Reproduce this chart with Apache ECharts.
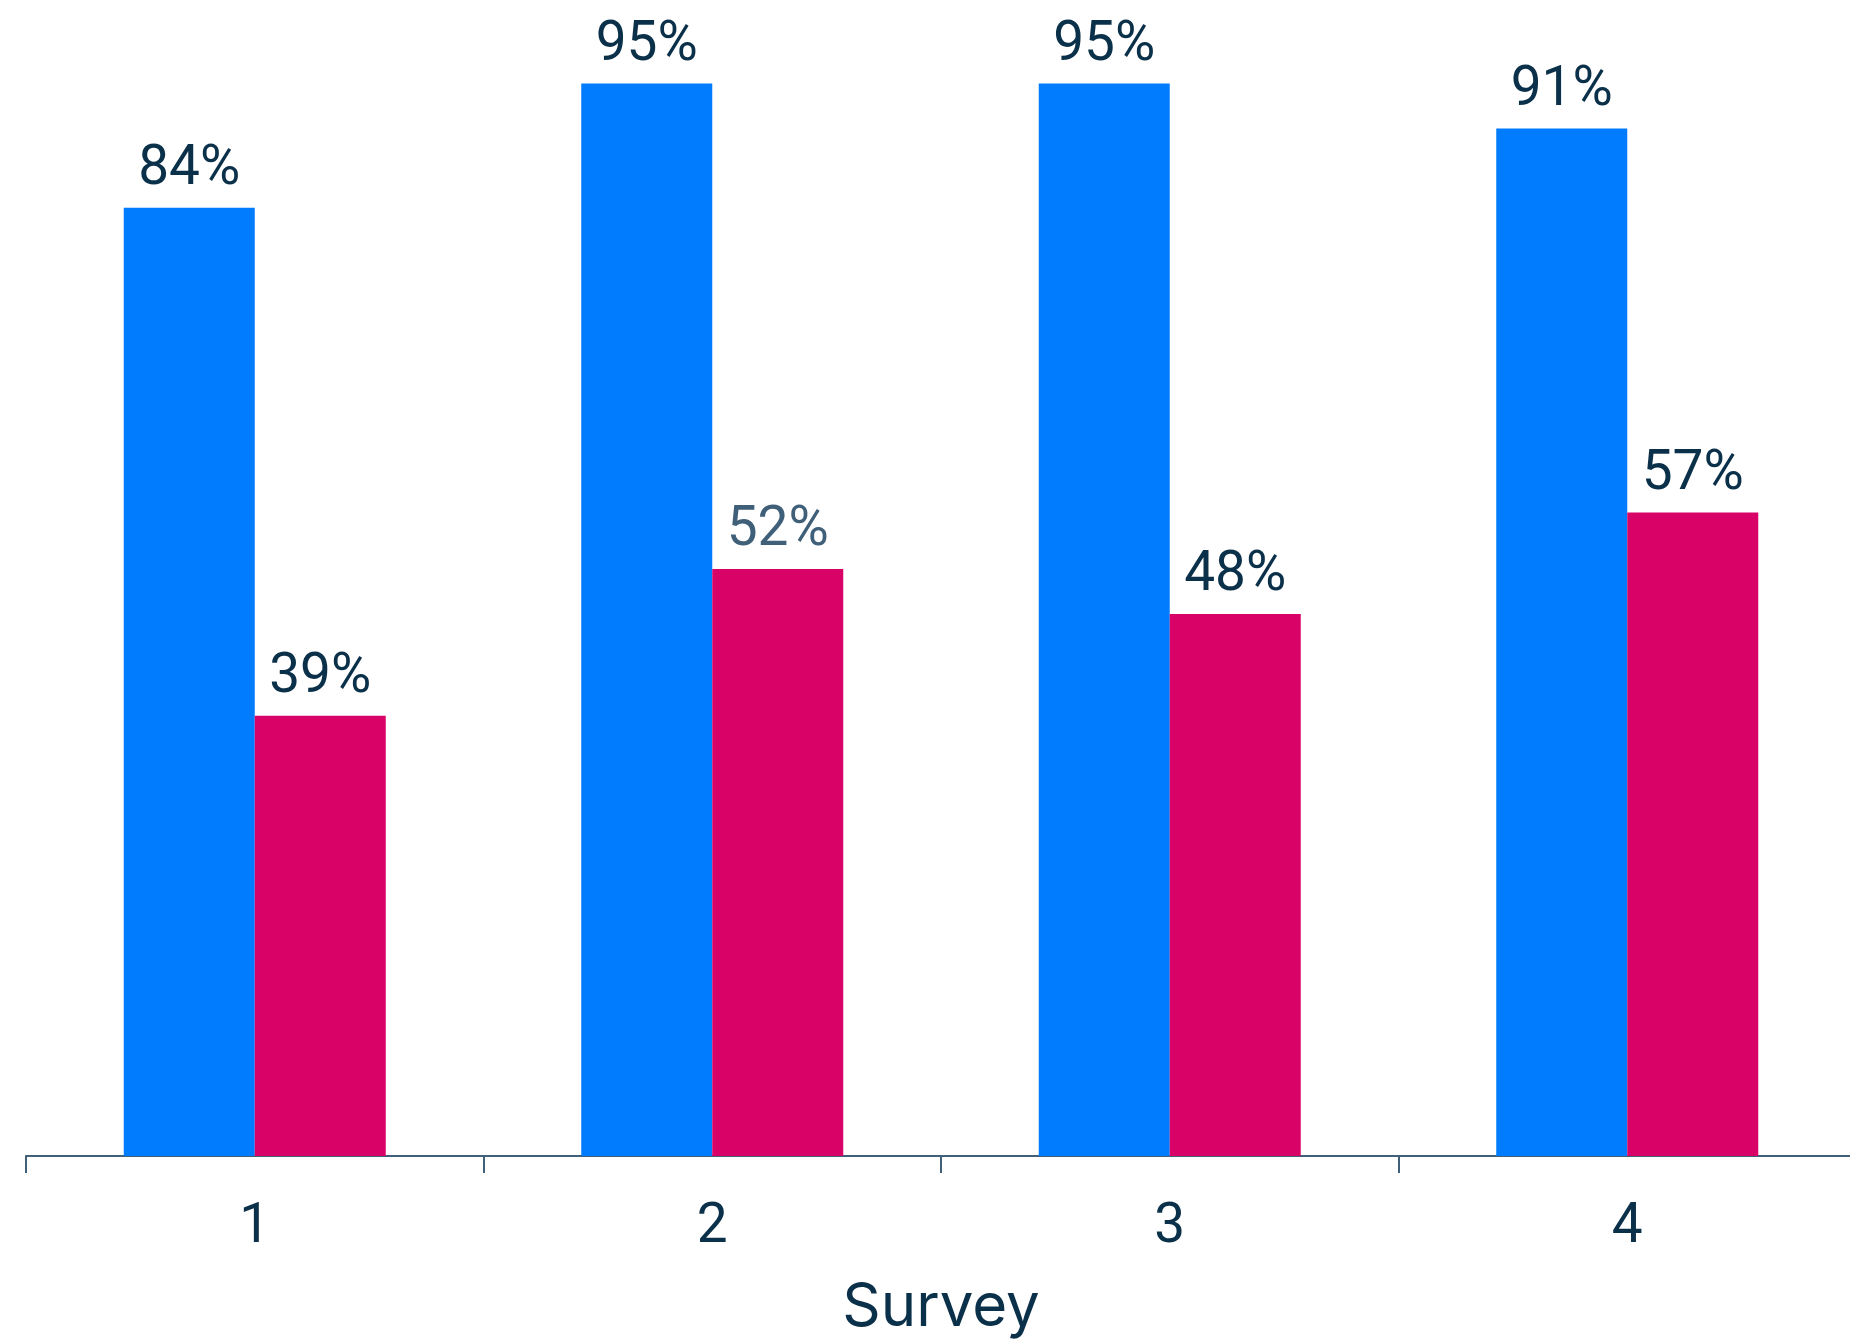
<!DOCTYPE html>
<html>
<head>
<meta charset="utf-8">
<title>Survey</title>
<script src="https://cdn.jsdelivr.net/npm/echarts@6/dist/echarts.min.js"></script>
<style>
  html, body { margin: 0; padding: 0; background: #ffffff; }
  #chart { width: 1850px; height: 1340px; }
</style>
</head>
<body>
<div id="chart"></div>
<script>
// Survey rounds along the x axis
const categories = ['1', '2', '3', '4'];
// Share (%) per survey for the two groups
const seriesA = [84, 95, 95, 91];
const seriesB = [39, 52, 48, 57];
// Label text colour per bar of the second group (the round 2 label is softer)
const seriesBLabelColors = ['#0b3049', '#3f6078', '#0b3049', '#0b3049'];

const DARK = '#0b3049';
const AXIS = '#3f6078';
const NUM_FONT = 'Roboto, "Noto Sans", sans-serif';
const NAME_FONT = 'Inter, "Noto Sans", sans-serif';

const chart = echarts.init(document.getElementById('chart'), null, { renderer: 'canvas' });

const labelBase = {
  show: true,
  position: 'top',
  distance: 10,
  formatter: p => p.value + '%',
  fontFamily: NUM_FONT,
  fontSize: 55,
  color: DARK
};

chart.setOption({
  animation: false,
  backgroundColor: '#ffffff',
  grid: {
    left: 26, right: -6, top: 27, bottom: 184,
    containLabel: false,
    outerBoundsMode: 'none'
  },
  xAxis: {
    type: 'category',
    data: categories,
    name: 'Survey',
    nameLocation: 'middle',
    nameGap: 122,
    nameTextStyle: { fontFamily: NAME_FONT, fontSize: 60, color: DARK },
    axisLine: { show: true, lineStyle: { color: AXIS, width: 2 } },
    axisTick: { show: true, length: 17, lineStyle: { color: AXIS, width: 2 } },
    axisLabel: { margin: 45, fontFamily: NUM_FONT, fontSize: 55, color: DARK }
  },
  yAxis: {
    type: 'value',
    min: 0,
    max: 100,
    show: false,
    splitLine: { show: false }
  },
  series: [
    {
      type: 'bar',
      data: seriesA,
      barWidth: 131,
      barGap: '0%',
      itemStyle: { color: '#017cff' },
      label: labelBase
    },
    {
      type: 'bar',
      data: seriesB.map((v, i) => ({
        value: v,
        label: { color: seriesBLabelColors[i] }
      })),
      barWidth: 131,
      barGap: '0%',
      itemStyle: { color: '#d90367' },
      label: labelBase
    }
  ]
});
</script>
</body>
</html>
